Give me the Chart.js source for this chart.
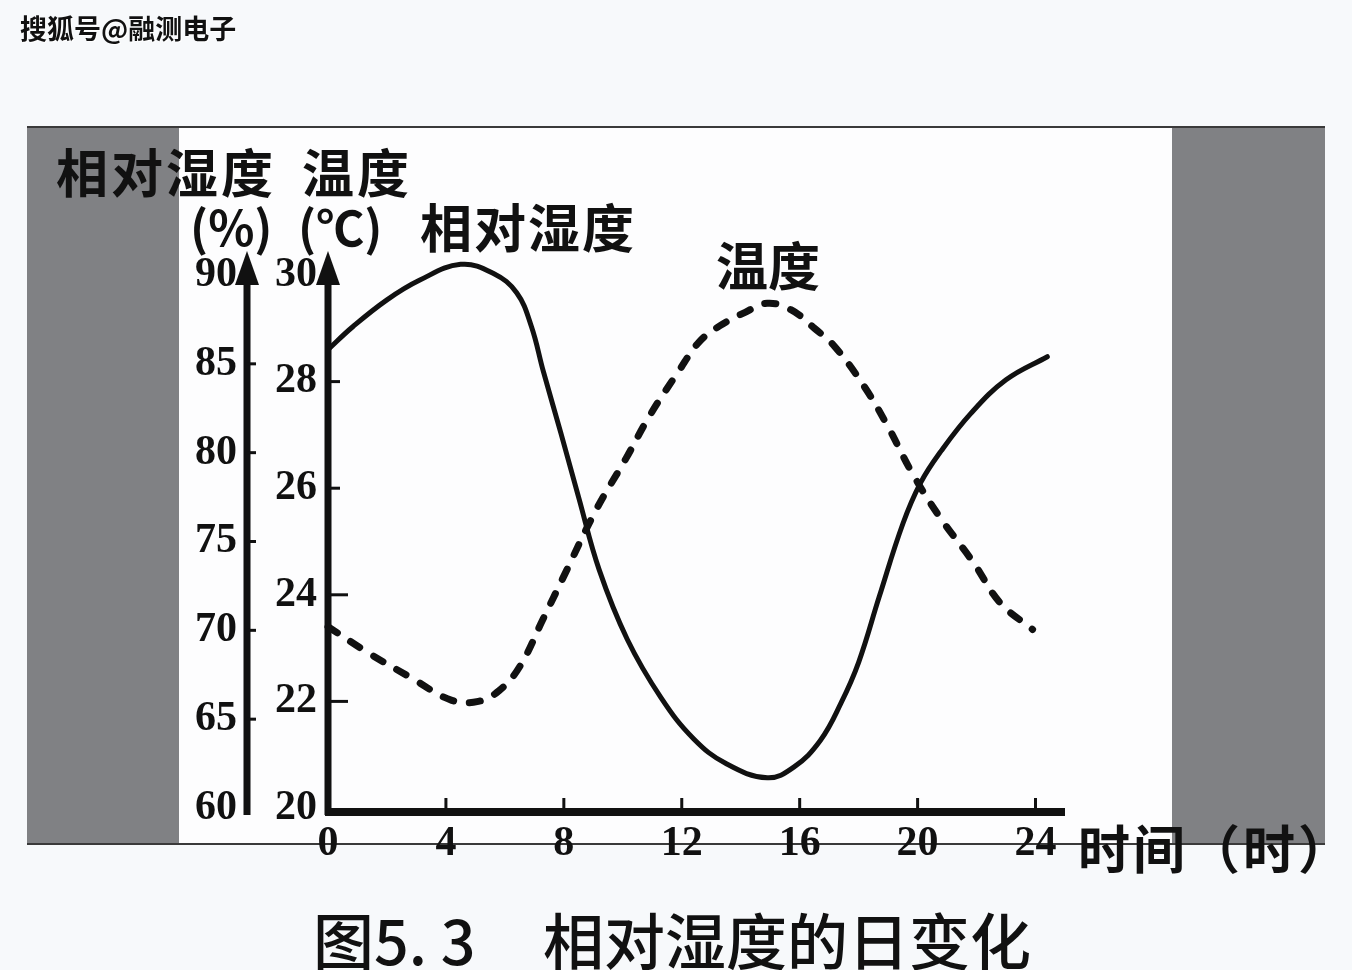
<!DOCTYPE html>
<html>
<head>
<meta charset="utf-8">
<script src="https://cdn.jsdelivr.net/npm/chart.js@4.4.0/dist/chart.umd.min.js"></script>
<style>
  html, body { margin: 0; padding: 0; }
  body {
    width: 1352px; height: 970px; position: relative; overflow: hidden;
    background: #f7f9fb; color: #111;
    font-family: "Noto Sans CJK SC", sans-serif;
  }
  #panel {
    position: absolute; left: 27px; top: 126px; width: 1298px; height: 715px;
    background: #808184; border-top: 2px solid #3a3a3a; border-bottom: 2px solid #3a3a3a;
  }
  #sheet { position: absolute; left: 179px; top: 128px; width: 993px; height: 715px; background: #fdfdfe; }
  canvas { position: absolute; left: 0; top: 0; }
  .t { position: absolute; white-space: nowrap; font-weight: 700; line-height: 1; font-size: 52px; }
</style>
</head>
<body>
<div id="panel"></div>
<div id="sheet"></div>
<canvas id="chart" width="1352" height="970"></canvas>

<div class="t" style="left:20px;top:14px;font-size:27px;text-shadow:1px 1px 0 #fff;">搜狐号@融测电子</div>
<div class="t" style="left:56px;top:145px;letter-spacing:3px;">相对湿度</div>
<div class="t" style="left:302px;top:145px;letter-spacing:3px;">温度</div>
<div class="t" style="left:190px;top:201px;font-size:48px;">(%)</div>
<div class="t" style="left:298px;top:201px;font-size:48px;">(℃)</div>
<div class="t" style="left:420px;top:200px;letter-spacing:2px;">相对湿度</div>
<div class="t" style="left:716px;top:238px;">温度</div>
<div class="t" style="left:1078px;top:821px;letter-spacing:3px;">时间（时）</div>
<div class="t" style="left:313px;top:908px;font-size:61px;font-weight:500;">图5. 3</div>
<div class="t" style="left:543px;top:908px;font-size:61px;font-weight:500;">相对湿度的日变化</div>

<script>
// relative humidity (%), solid line
const rhHours = [0, 0.85, 2.0, 3.1, 4.5, 5.6, 6.4, 6.9, 7.3, 7.9, 8.5, 9.2, 10.15, 11.3, 12.4,
  13.5, 14.9, 15.8, 16.7, 17.4, 18.0, 18.7, 19.5, 20.1, 20.8, 21.8, 23.0, 24.4];
const rhValues = [85.8, 87.1, 88.6, 89.7, 90.6, 90.1, 89.0, 87.1, 84.6, 81.1, 77.5, 73.4, 69.5,
  66.2, 63.9, 62.5, 61.7, 62.3, 63.8, 65.9, 68.2, 71.9, 76.0, 78.3, 80.1, 82.2, 84.1, 85.4];

// temperature (°C), dashed line
const tempHours = [0, 1.4, 2.8, 4.2, 5.1, 5.8, 6.5, 7.3, 8.0, 9.1, 10.1, 10.9, 11.9, 12.6, 13.3,
  14.15, 14.9, 15.7, 16.5, 17.2, 18.2, 19.0, 19.8, 20.7, 21.9, 22.8, 23.9];
const tempValues = [23.4, 22.9, 22.45, 22.02, 22.0, 22.2, 22.65, 23.55, 24.35, 25.6, 26.55, 27.35,
  28.2, 28.75, 29.05, 29.3, 29.47, 29.35, 29.0, 28.65, 27.9, 27.15, 26.3, 25.5, 24.6, 23.85, 23.35];

const hourTicks = [0, 4, 8, 12, 16, 20, 24];
const tempTicks = [20, 22, 24, 26, 28, 30];
const rhTicks = [60, 65, 70, 75, 80, 85, 90];

const INK = '#111';
const tickFont = { family: '"Liberation Serif", serif', size: 42, weight: 'bold' };

function pts(xs, ys) {
  return xs.map((x, i) => ({ x: x, y: ys[i] }));
}

// hand-drawn style axes: thick lines, arrow heads, small inner ticks
const axisArt = {
  id: 'axisArt',
  afterDatasetsDraw(chart) {
    const { ctx, scales } = chart;
    const x = scales.x, yT = scales.yT, yH = scales.yH;
    const bottom = yT.getPixelForValue(20);
    const topY = yT.getPixelForValue(30);
    ctx.save();
    ctx.strokeStyle = INK;
    ctx.fillStyle = INK;

    function arrowAxis(px, from) {
      ctx.lineWidth = 7;
      ctx.beginPath();
      ctx.moveTo(px, from);
      ctx.lineTo(px, topY - 5);
      ctx.stroke();
      ctx.beginPath();
      ctx.moveTo(px, topY - 24);
      ctx.lineTo(px - 12, topY + 10);
      ctx.lineTo(px + 12, topY + 10);
      ctx.closePath();
      ctx.fill();
    }
    arrowAxis(yH.right, bottom + 7);
    arrowAxis(yT.right, bottom + 7);

    // time axis
    ctx.lineWidth = 8;
    ctx.beginPath();
    ctx.moveTo(yT.right - 3, bottom + 4);
    ctx.lineTo(x.getPixelForValue(25), bottom + 4);
    ctx.stroke();

    ctx.lineWidth = 3;
    hourTicks.slice(1).forEach(v => {
      const px = x.getPixelForValue(v);
      ctx.beginPath();
      ctx.moveTo(px, bottom);
      ctx.lineTo(px, bottom - 10);
      ctx.stroke();
    });
    tempTicks.slice(1, -1).forEach(v => {
      const py = yT.getPixelForValue(v);
      ctx.beginPath();
      ctx.moveTo(yT.right, py);
      ctx.lineTo(yT.right + (v <= 24 ? 20 : 12), py);
      ctx.stroke();
    });
    rhTicks.slice(1, -1).forEach(v => {
      const py = yH.getPixelForValue(v);
      ctx.beginPath();
      ctx.moveTo(yH.right, py);
      ctx.lineTo(yH.right + 9, py);
      ctx.stroke();
    });
    ctx.restore();
  }
};

new Chart(document.getElementById('chart'), {
  type: 'line',
  data: {
    datasets: [
      {
        label: '相对湿度',
        data: pts(rhHours, rhValues),
        yAxisID: 'yH',
        borderColor: INK,
        borderWidth: 5,
        pointRadius: 0,
        tension: 0.4,
        clip: 30,
        borderCapStyle: 'round',
      },
      {
        label: '温度',
        data: pts(tempHours, tempValues),
        yAxisID: 'yT',
        borderColor: INK,
        borderWidth: 7,
        borderDash: [11, 16],
        borderCapStyle: 'round',
        pointRadius: 0,
        tension: 0.4,
        clip: 30,
      },
    ],
  },
  options: {
    responsive: false,
    animation: false,
    devicePixelRatio: 1,
    layout: { padding: { left: 167, top: 275, right: 287, bottom: 112 } },
    plugins: { legend: { display: false }, tooltip: { enabled: false } },
    scales: {
      x: {
        type: 'linear',
        min: 0,
        max: 25,
        afterBuildTicks: s => { s.ticks = hourTicks.map(v => ({ value: v })); },
        afterFit: s => { s.height = 50; },
        ticks: { font: tickFont, color: INK, padding: 11, maxRotation: 0, autoSkip: false },
        grid: { display: false, drawTicks: false },
        border: { display: false },
      },
      yT: {
        position: 'left',
        weight: 0,
        min: 20,
        max: 30,
        afterBuildTicks: s => { s.ticks = tempTicks.map(v => ({ value: v })); },
        afterFit: s => { s.width = 81; },
        ticks: { font: tickFont, color: INK, padding: 11, autoSkip: false },
        grid: { display: false, drawTicks: false },
        border: { display: false },
      },
      yH: {
        position: 'left',
        weight: 1,
        min: 60,
        max: 90,
        afterBuildTicks: s => { s.ticks = rhTicks.map(v => ({ value: v })); },
        afterFit: s => { s.width = 80; },
        ticks: { font: tickFont, color: INK, padding: 10, autoSkip: false },
        grid: { display: false, drawTicks: false },
        border: { display: false },
      },
    },
  },
  plugins: [axisArt],
});
</script>
</body>
</html>
